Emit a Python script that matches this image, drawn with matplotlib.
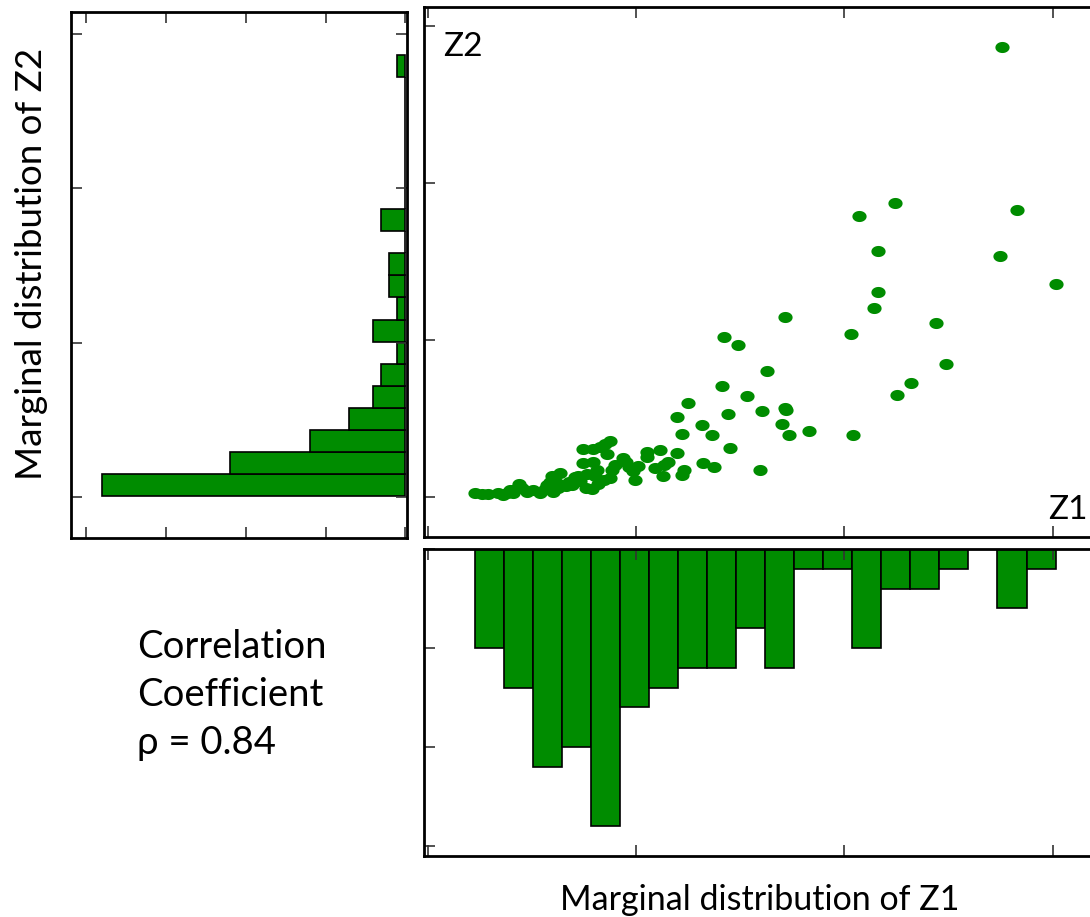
import numpy as np
import matplotlib
matplotlib.use("Agg")
import matplotlib.pyplot as plt

plt.rcParams["font.family"] = ["Lato", "DejaVu Sans"]

# scatter sample (Z1, Z2)
z1 = [2.755, 2.245, 2.072, 2.827, 2.163, 2.745, 3.014, 2.159, 2.144, 1.716,
      2.442, 2.034, 1.423, 1.490, 2.490, 1.630, 2.322, 1.413, 2.255, 1.534,
      1.250, 1.716, 1.606, 1.442, 1.197, 1.702, 1.317, 1.832, 1.221, 1.365,
      1.736, 2.043, 1.452, 1.596, 1.322, 1.375, 1.115, 1.197, 1.053, 1.053,
      1.135, 1.130, 1.221, 0.851, 0.875, 0.827, 0.745, 0.793, 0.861, 0.938,
      0.745, 0.793, 0.885, 0.966, 0.986, 0.995, 0.875, 0.803, 0.764, 0.788,
      0.731, 0.707, 0.678, 0.635, 0.596, 0.620, 0.572, 0.601, 0.625, 0.505,
      0.538, 0.438, 0.452, 0.409, 0.380, 0.337, 0.361, 0.288, 0.226, 0.260,
      0.394, 0.423, 0.476, 0.563, 0.587, 0.635, 0.663, 0.692, 0.760, 0.721,
      0.817, 0.846, 0.813, 0.899, 0.952, 1.010, 1.091, 1.154, 1.231, 1.721]
z2 = [2.866, 1.873, 1.790, 1.828, 1.567, 1.535, 1.357, 1.306, 1.204, 1.146,
      1.108, 1.038, 1.019, 0.968, 0.847, 0.803, 0.726, 0.707, 0.650, 0.643,
      0.599, 0.567, 0.548, 0.529, 0.510, 0.465, 0.459, 0.420, 0.401, 0.395,
      0.395, 0.395, 0.312, 0.172, 0.217, 0.191, 0.299, 0.280, 0.287, 0.255,
      0.204, 0.134, 0.140, 0.338, 0.357, 0.318, 0.306, 0.306, 0.274, 0.248,
      0.217, 0.223, 0.172, 0.191, 0.166, 0.108, 0.121, 0.134, 0.146, 0.051,
      0.102, 0.127, 0.096, 0.153, 0.134, 0.089, 0.076, 0.032, 0.057, 0.045,
      0.025, 0.083, 0.057, 0.025, 0.025, 0.025, 0.013, 0.019, 0.025, 0.019,
      0.045, 0.051, 0.032, 0.051, 0.096, 0.070, 0.070, 0.076, 0.057, 0.134,
      0.083, 0.108, 0.172, 0.204, 0.223, 0.197, 0.185, 0.223, 0.172, 0.554]

# marginal histograms (20 bins each)
z1_range = (0.226, 3.014)
z1_counts = [5, 7, 11, 10, 14, 8, 7, 6, 6, 4, 6, 1, 1, 5, 2, 2, 1, 0, 3, 1]
z2_range = (0.0065, 2.865)
z2_counts = [38, 22, 12, 7, 4, 3, 1, 4, 1, 2, 2, 0, 3, 0, 0, 0, 0, 0, 0, 1]

rho_text = "Correlation\nCoefficient\nρ = 0.84"

GREEN = "#008c00"


def style_axes(ax):
    for s in ax.spines.values():
        s.set_linewidth(2)
        s.set_color("black")
    ax.tick_params(direction="in", length=8, width=1.2, color="#333333",
                   labelbottom=False, labelleft=False, labeltop=False, labelright=False)


fig = plt.figure(figsize=(10.9, 9.17), dpi=100)

# left: marginal of Z2
ax_l = fig.add_axes([0.0651, 0.4133, 0.3083, 0.5736])
edges2 = np.linspace(z2_range[0], z2_range[1], len(z2_counts) + 1)
ax_l.barh(edges2[:-1], z2_counts, height=np.diff(edges2), align="edge",
          color=GREEN, edgecolor="black", linewidth=1.2)
ax_l.set_xlim(41.86, -0.2)
ax_l.set_ylim(-0.266, 3.143)
ax_l.set_xticks([0, 10, 20, 30, 40])
ax_l.set_yticks([0, 1, 2, 3])
style_axes(ax_l)
ax_l.tick_params(top=True, bottom=True, left=True, right=True)

# main scatter
ax_s = fig.add_axes([0.389, 0.4144, 0.63, 0.578])
theta = np.linspace(0, 2 * np.pi, 40)
ellipse = np.column_stack([np.cos(theta), 0.78 * np.sin(theta)])
ax_s.scatter(z1, z2, s=105, marker=ellipse, color=GREEN, linewidths=0, zorder=3)
ax_s.set_xlim(-0.019, 3.279)
ax_s.set_ylim(-0.255, 3.121)
ax_s.set_xticks([0, 1, 2, 3])
ax_s.set_yticks([0, 1, 2, 3])
style_axes(ax_s)
ax_s.tick_params(top=True, bottom=True, left=True, right=False)
ax_s.text(0.072, 2.866, "Z2", fontsize=24, ha="left", va="center")
ax_s.text(2.98, -0.083, "Z1", fontsize=24, ha="left", va="center")

# bottom: marginal of Z1
ax_b = fig.add_axes([0.389, 0.0665, 0.63, 0.3348])
edges1 = np.linspace(z1_range[0], z1_range[1], len(z1_counts) + 1)
ax_b.bar(edges1[:-1], z1_counts, width=np.diff(edges1), align="edge",
         color=GREEN, edgecolor="black", linewidth=1.2)
ax_b.set_xlim(-0.019, 3.279)
ax_b.set_ylim(15.5, 0.15)
ax_b.set_xticks([0, 1, 2, 3])
ax_b.set_yticks([0, 5, 10, 15])
style_axes(ax_b)
ax_b.tick_params(top=True, bottom=True, left=True, right=False)

fig.text(0.697, 0.018, "Marginal distribution of Z1", fontsize=24.5, ha="center", va="center")
fig.text(0.029, 0.712, "Marginal distribution of Z2", fontsize=26.5, ha="center", va="center",
         rotation=90)
fig.text(0.1257, 0.2421, rho_text, fontsize=27.5, ha="left", va="center", linespacing=1.4)

fig.savefig("out.png", dpi=100)
